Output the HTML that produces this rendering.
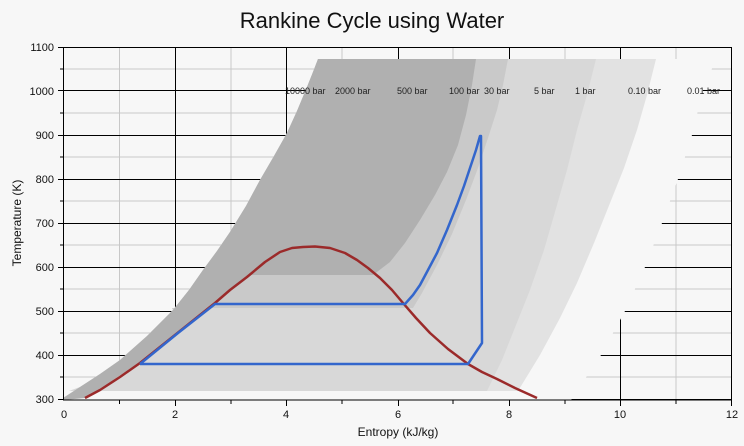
<!DOCTYPE html>
<html><head><meta charset="utf-8"><style>
html,body{margin:0;padding:0;background:#f7f7f7;}
svg{display:block;font-family:"Liberation Sans",sans-serif;}
</style></head><body>
<svg width="744" height="446" viewBox="0 0 744 446" xmlns="http://www.w3.org/2000/svg">
<rect width="744" height="446" fill="#f7f7f7"/>
<text x="372" y="28" font-size="22" text-anchor="middle" fill="#111">Rankine Cycle using Water</text>
<g stroke="#c8c8c8" stroke-width="1">
<line x1="119.5" y1="47" x2="119.5" y2="400"/><line x1="231" y1="47" x2="231" y2="400"/><line x1="342" y1="47" x2="342" y2="400"/><line x1="453" y1="47" x2="453" y2="400"/><line x1="565" y1="47" x2="565" y2="400"/><line x1="676" y1="47" x2="676" y2="400"/>
<line x1="64" y1="69" x2="731" y2="69"/><line x1="64" y1="113" x2="731" y2="113"/><line x1="64" y1="157" x2="731" y2="157"/><line x1="64" y1="201" x2="731" y2="201"/><line x1="64" y1="245" x2="731" y2="245"/><line x1="64" y1="289" x2="731" y2="289"/><line x1="64" y1="333" x2="731" y2="333"/><line x1="64" y1="377" x2="731" y2="377"/>
</g>
<g stroke="#000" stroke-width="1">
<line x1="175.5" y1="47" x2="175.5" y2="400"/><line x1="286.5" y1="47" x2="286.5" y2="400"/><line x1="398.5" y1="47" x2="398.5" y2="400"/><line x1="509.5" y1="47" x2="509.5" y2="400"/><line x1="620.5" y1="47" x2="620.5" y2="400"/>
<line x1="58" y1="90.5" x2="731" y2="90.5"/><line x1="58" y1="135.5" x2="731" y2="135.5"/><line x1="58" y1="179.5" x2="731" y2="179.5"/><line x1="58" y1="223.5" x2="731" y2="223.5"/><line x1="58" y1="267.5" x2="731" y2="267.5"/><line x1="58" y1="311.5" x2="731" y2="311.5"/><line x1="58" y1="355.5" x2="731" y2="355.5"/><line x1="58" y1="399.5" x2="731" y2="399.5"/>
</g>
<polygon fill="#f7f7f7" points="318,59 716,59 703,90 692,135 678,179 662,223 645,267 625,311 601,355 571,400 63.5,400 63,398 80,387 100,374 120,360 147,336 173,310 189,290 203,270 217,251 230,232 246,206 260,180 274,156 287,133 297,111 307,87 313,72"/>
<polygon fill="#e2e2e2" points="318,59 656,59 647,95 637,130 624,168 610,203 594,243 577,283 560,318 540,355 518,391 69,391 80,387 100,374 120,360 147,336 173,310 189,290 203,270 217,251 230,232 246,206 260,180 274,156 287,133 297,111 307,87 313,72"/>
<polygon fill="#d8d8d8" points="318,59 596,59 587,95 577,130 567,170 557,205 544,250 530,290 516,325 502,360 487,391 69,391 80,387 100,374 120,360 147,336 173,310 189,290 203,270 217,251 230,232 246,206 260,180 274,156 287,133 297,111 307,87 313,72"/>
<polygon fill="#c9c9c9" points="318,59 508,59 503,85 497,110 488,138 478,168 466,200 452,234 437,265 422,293 413,308 172,308 173,310 189,290 203,270 217,251 230,232 246,206 260,180 274,156 287,133 297,111 307,87 313,72"/>
<polygon fill="#b0b0b0" points="318,59 476,59 472,85 466,115 458,145 447,172 435,195 420,220 405,243 390,262 373,275 250,275 230,290 215,303 178,333 140,362 107,384 85,398 63.5,400 63,398 80,387 100,374 120,360 147,336 173,310 189,290 203,270 217,251 230,232 246,206 260,180 274,156 287,133 297,111 307,87 313,72"/>
<g font-size="9" fill="#222">
<text x="285" y="94">10000 bar</text><text x="335" y="94">2000 bar</text><text x="397" y="94">500 bar</text><text x="449" y="94">100 bar</text><text x="484" y="94">30 bar</text><text x="534" y="94">5 bar</text><text x="575" y="94">1 bar</text><text x="628" y="94">0.10 bar</text><text x="687" y="94">0.01 bar</text>
</g>
<polyline fill="none" stroke="#9b2a2a" stroke-width="2.5" stroke-linejoin="round" points="85,398 100,390 120,377 140,363 160,347 180,331 200,315 215,303 230,290 247,277 265,262 280,252 292,248 303,247 315,246.5 330,248 345,253 357,260 368,268 380,278 392,290 403,303 416,318 430,333 448,349 468,364 482,372 497,379 515,388 537,398"/>
<polyline fill="none" stroke="#3366cc" stroke-width="2.5" stroke-linejoin="round" points="140,364 178,333 215,304 405,304 413,295 420,285 428,270 437,253 447,230 457,205 464,186 470,168 476,150 480,136 481,136 482,343 468,364 140,364"/>
<g stroke="#000" stroke-width="1" fill="none">
<rect x="63.5" y="47.5" width="668" height="352.5"/>
<line x1="60" y1="69" x2="64" y2="69"/><line x1="60" y1="113" x2="64" y2="113"/><line x1="60" y1="157" x2="64" y2="157"/><line x1="60" y1="201" x2="64" y2="201"/><line x1="60" y1="245" x2="64" y2="245"/><line x1="60" y1="289" x2="64" y2="289"/><line x1="60" y1="333" x2="64" y2="333"/><line x1="60" y1="377" x2="64" y2="377"/>
<line x1="58" y1="47.5" x2="64" y2="47.5"/>
<line x1="119.5" y1="400" x2="119.5" y2="404"/><line x1="175.5" y1="400" x2="175.5" y2="406"/><line x1="231" y1="400" x2="231" y2="404"/><line x1="286.5" y1="400" x2="286.5" y2="406"/><line x1="342" y1="400" x2="342" y2="404"/><line x1="398.5" y1="400" x2="398.5" y2="406"/><line x1="453" y1="400" x2="453" y2="404"/><line x1="509.5" y1="400" x2="509.5" y2="406"/><line x1="565" y1="400" x2="565" y2="404"/><line x1="620.5" y1="400" x2="620.5" y2="406"/><line x1="676" y1="400" x2="676" y2="404"/><line x1="731.5" y1="400" x2="731.5" y2="406"/>
</g>
<g font-size="11" fill="#111" text-anchor="end">
<text x="54" y="51">1100</text><text x="54" y="95">1000</text><text x="54" y="139">900</text><text x="54" y="183">800</text><text x="54" y="227">700</text><text x="54" y="271">600</text><text x="54" y="315">500</text><text x="54" y="359">400</text><text x="54" y="403">300</text>
</g>
<g font-size="11" fill="#111" text-anchor="middle">
<text x="64" y="418">0</text><text x="175" y="418">2</text><text x="286" y="418">4</text><text x="398" y="418">6</text><text x="509" y="418">8</text><text x="620" y="418">10</text><text x="732" y="418">12</text>
</g>
<text x="398" y="436" font-size="12" text-anchor="middle" fill="#111">Entropy (kJ/kg)</text>
<text transform="translate(21,223) rotate(-90)" font-size="12" text-anchor="middle" fill="#111">Temperature (K)</text>
</svg>
</body></html>
